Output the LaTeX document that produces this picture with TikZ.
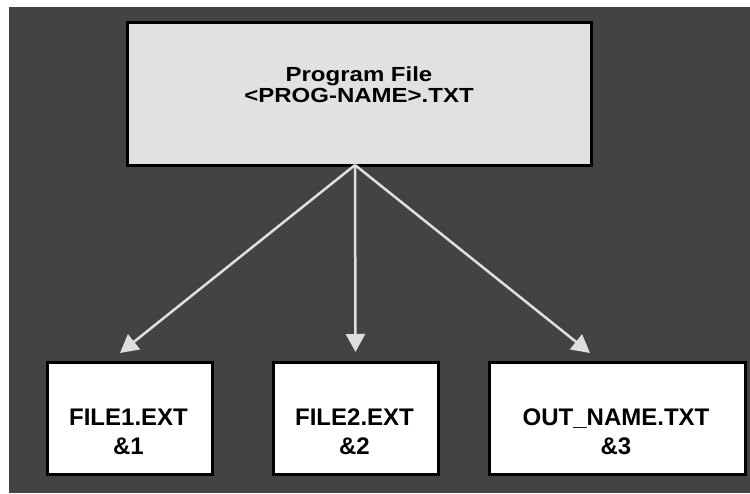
\documentclass[tikz,border=0pt]{standalone}
\usepackage{fontspec}
\setmainfont{Liberation Sans}
\usetikzlibrary{arrows.meta}
\definecolor{bgdark}{HTML}{434343}
\definecolor{topfill}{HTML}{E1E1E1}
\definecolor{arrowgray}{HTML}{DEDEDE}
\begin{document}
\begin{tikzpicture}[x=1pt,y=-1pt,
  box/.style={draw=black,line width=2.5pt,rectangle,inner sep=0pt,anchor=north west},
  toptext/.style={align=center,font=\bfseries\fontsize{24}{23.7}\selectfont,inner sep=0pt},
  bottext/.style={align=center,font=\bfseries\fontsize{24}{29}\selectfont,inner sep=0pt},
  conn/.style={draw=arrowgray,line width=2.5pt,-{Triangle[length=18pt,width=19pt]}}]
\useasboundingbox (0,0) rectangle (750,493);
\fill[white] (0,0) rectangle (750,493);
\fill[bgdark] (9,7) rectangle (750,493);
% top box
\node[box,fill=topfill,minimum width=464pt,minimum height=143pt] (prog) at (126,21) {};
\node[toptext] (progtxt) at (359,87.5) {\scalebox{1}[0.85]{\begin{tabular}{@{}c@{}}Program File\\<PROG-NAME>.TXT\end{tabular}}};
% bottom boxes
\node[box,fill=white,minimum width=165pt,minimum height=112pt] (f1) at (46,361) {};
\node[box,fill=white,minimum width=165pt,minimum height=112pt] (f2) at (272,361) {};
\node[box,fill=white,minimum width=256pt,minimum height=112pt] (f3) at (488,361) {};
\node[bottext] (f1txt) at (128.5,432) {FILE1.EXT\\\&1};
\node[bottext] (f2txt) at (354.5,432) {FILE2.EXT\\\&2};
\node[bottext] (f3txt) at (616,432) {OUT\_NAME.TXT\\\&3};
% connectors
\coordinate (src) at (355,165);
\coordinate (t1) at (120,353);
\coordinate (t2) at (355.5,352);
\coordinate (t3) at (590,353);
\draw[conn] (src) -- (t1);
\draw[conn] (src) -- (t2);
\draw[conn] (src) -- (t3);
\end{tikzpicture}
\end{document}
